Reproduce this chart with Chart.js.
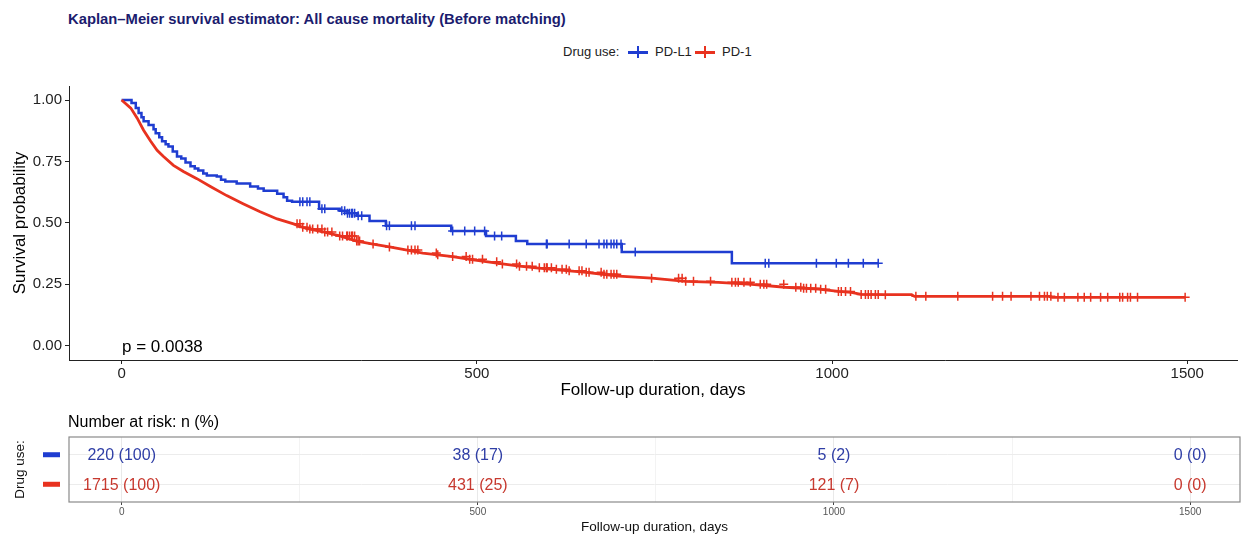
<!DOCTYPE html>
<html>
<head>
<meta charset="utf-8">
<title>Kaplan-Meier</title>
<script src="https://cdn.jsdelivr.net/npm/chart.js@4.4.1/dist/chart.umd.min.js"></script>
<style>
body{margin:0;background:#fff;font-family:"Liberation Sans",Arial,sans-serif;}
#wrap{position:relative;width:1243px;height:536px;overflow:hidden;}
.abs{position:absolute;white-space:nowrap;}
#title{left:68px;top:10px;font-size:14.8px;line-height:18px;font-weight:bold;color:#1b1c6e;}
.leg{top:45px;font-size:13px;line-height:14px;color:#222;}
.key{position:absolute;top:46px;width:20px;height:12px;}
.key::before{content:'';position:absolute;left:0;top:5px;width:20px;height:2.5px;background:currentColor;}
.key::after{content:'';position:absolute;left:9px;top:0;width:2px;height:12px;background:currentColor;}
#pval{left:122px;top:337px;font-size:17px;line-height:20px;color:#000;}
#risktitle{left:68px;top:412px;font-size:16px;line-height:20px;color:#000;}
#main{position:absolute;left:0;top:0;}
#risk{position:absolute;left:0;top:410px;}
</style>
</head>
<body>
<div id="wrap">
  <div id="title" class="abs">Kaplan–Meier survival estimator: All cause mortality (Before matching)</div>
  <div class="abs leg" style="left:563px">Drug use:</div>
  <div class="key" style="left:628px;color:#1f3dd1"></div>
  <div class="abs leg" style="left:655px">PD-L1</div>
  <div class="key" style="left:695px;color:#e8321f"></div>
  <div class="abs leg" style="left:722px">PD-1</div>
  <canvas id="main" width="1243" height="410"></canvas>
  <canvas id="risk" width="1243" height="126"></canvas>
  <div id="pval" class="abs">p = 0.0038</div>
  <div id="risktitle" class="abs">Number at risk: n (%)</div>
</div>
<script>
// PD-L1 curve (step points: day, survival)
const pdl1Time = [0,14,20,24,28,31,38,45,48,53,57,62,66,72,78,84,90,97,103,108,115,120,134,140,146,162,181,192,200,219,228,233,240,278,307,318,331,349,372,464,513,555,571,704,859,1065];
const pdl1Surv = [1.0,0.988,0.967,0.947,0.930,0.914,0.898,0.881,0.865,0.848,0.832,0.820,0.811,0.790,0.770,0.762,0.746,0.730,0.721,0.713,0.701,0.693,0.689,0.676,0.668,0.660,0.648,0.640,0.631,0.619,0.604,0.590,0.586,0.557,0.549,0.539,0.529,0.508,0.488,0.467,0.447,0.426,0.414,0.381,0.336,0.336];
const pdl1Censor = [251,255,261,265,282,286,310,314,318,321,324,325,328,333,338,373,377,408,413,466,483,497,511,525,535,598,599,630,654,672,679,683,689,693,697,703,723,906,911,978,1006,1023,1044,1065];

// PD-1 curve
const pd1Time = [0,13,22,31,41,50,59,73,87,106,125,148,171,195,219,242,255,265,284,307,331,354,377,400,424,445,466,490,513,536,560,583,606,630,654,677,700,746,794,840,887,934,960,981,1009,1027,1041,1075,1112,1116,1305,1310,1497];
const pd1Surv = [1.0,0.967,0.926,0.877,0.832,0.795,0.770,0.734,0.709,0.680,0.648,0.611,0.578,0.545,0.516,0.496,0.482,0.475,0.463,0.447,0.426,0.414,0.402,0.390,0.377,0.370,0.363,0.352,0.342,0.333,0.324,0.317,0.311,0.305,0.299,0.291,0.283,0.275,0.262,0.258,0.250,0.238,0.234,0.230,0.221,0.217,0.209,0.208,0.208,0.201,0.201,0.197,0.197];
const pd1Censor = [247,251,255,261,265,269,276,282,286,290,296,307,311,317,318,321,324,325,328,331,333,335,354,377,403,408,413,417,443,445,466,485,490,494,508,528,536,556,560,570,578,588,595,598,599,605,612,620,626,630,644,648,654,658,675,679,683,689,693,697,746,784,789,794,805,829,859,864,868,876,885,899,904,908,932,949,956,960,964,970,977,984,991,1009,1013,1019,1026,1041,1047,1051,1055,1061,1065,1075,1118,1132,1177,1226,1240,1252,1280,1292,1299,1303,1308,1318,1327,1346,1355,1364,1378,1388,1405,1409,1416,1420,1430,1497];

const xTicks = [0,500,1000,1500];
const yTicks = [0,0.25,0.5,0.75,1];
const tableGrid = [0,250,500,750,1000,1250,1500];

// number at risk table
const riskTimes = [0,500,1000,1500];
const riskPDL1N = [220,38,5,0];
const riskPDL1Pct = [100,17,2,0];
const riskPD1N = [1715,431,121,0];
const riskPD1Pct = [100,25,7,0];

const BLUE = '#1f3dd1', RED = '#e8321f';
const FONT = '"Liberation Sans", Arial, sans-serif';

function survAt(times, surv, t){
	let s = surv[0];
	for (let i = 0; i < times.length; i++) if (times[i] <= t) s = surv[i];
	return s;
}
function pts(times, surv){ return times.map((t,i) => ({x:t, y:surv[i]})); }
function censorPts(c, times, surv){ return c.map(t => ({x:t, y:survAt(times, surv, t)})); }

new Chart(document.getElementById('main'), {
	type: 'scatter',
	data: {
		datasets: [
			{data: pts(pd1Time, pd1Surv), showLine: true, stepped: false, borderColor: RED, borderWidth: 2.8, pointRadius: 0, fill: false},
			{data: censorPts(pd1Censor, pd1Time, pd1Surv), showLine: false, pointStyle: 'cross', pointRadius: 4.5, borderColor: RED, borderWidth: 1.5},
			{data: pts(pdl1Time, pdl1Surv), showLine: true, stepped: true, borderColor: BLUE, borderWidth: 2.5, pointRadius: 0, fill: false},
			{data: censorPts(pdl1Censor, pdl1Time, pdl1Surv), showLine: false, pointStyle: 'cross', pointRadius: 4.5, borderColor: BLUE, borderWidth: 1.5}
		]
	},
	options: {
		responsive: false,
		animation: false,
		layout: {padding: {top: 86, right: 3, left: 0, bottom: 0}},
		plugins: {legend: {display: false}, tooltip: {enabled: false}},
		scales: {
			x: {
				type: 'linear', min: -74, max: 1570,
				afterBuildTicks: s => { s.ticks = xTicks.map(v => ({value: v})); },
				afterFit: s => { s.height = 50; },
				grid: {display: true, drawOnChartArea: false, tickLength: 4, tickColor: '#222'},
				border: {display: true, color: '#222', width: 1},
				ticks: {color: '#222', font: {family: FONT, size: 15}, padding: 1, maxRotation: 0, callback: v => String(v)},
				title: {display: true, text: 'Follow-up duration, days', color: '#000', font: {family: FONT, size: 17}, padding: {top: 0, bottom: 9}}
			},
			y: {
				type: 'linear', min: -0.058, max: 1.057,
				afterBuildTicks: s => { s.ticks = yTicks.map(v => ({value: v})); },
				afterFit: s => { s.width = 69; },
				grid: {display: true, drawOnChartArea: false, tickLength: 4, tickColor: '#222'},
				border: {display: true, color: '#222', width: 1},
				ticks: {color: '#222', font: {family: FONT, size: 15}, padding: 3, callback: v => v.toFixed(2)},
				title: {display: true, text: 'Survival probability', color: '#000', font: {family: FONT, size: 17}, padding: {top: 10, bottom: 0}}
			}
		}
	}
});

const riskPlugin = {
	id: 'riskText',
	afterDraw(chart){
		const {ctx, chartArea: a, scales: {x, y}} = chart;
		ctx.save();
		ctx.strokeStyle = '#8a8a8a';
		ctx.lineWidth = 1.2;
		ctx.strokeRect(a.left, a.top, a.right - a.left, a.bottom - a.top);
		const rows = [
			{n: riskPDL1N, p: riskPDL1Pct, color: '#2f3ea6', key: BLUE},
			{n: riskPD1N, p: riskPD1Pct, color: '#c7392f', key: RED}
		];
		ctx.font = '16px ' + FONT;
		ctx.textAlign = 'center';
		ctx.textBaseline = 'middle';
		rows.forEach((r, i) => {
			const py = y.getPixelForValue(i + 1);
			ctx.fillStyle = r.key;
			ctx.fillRect(43, py - 2.5, 17, 5);
			ctx.fillStyle = r.color;
			riskTimes.forEach((t, j) => {
				ctx.fillText(r.n[j] + ' (' + r.p[j] + ')', x.getPixelForValue(t), py + 1);
			});
		});
		ctx.restore();
	}
};

new Chart(document.getElementById('risk'), {
	type: 'scatter',
	data: {datasets: [{data: []}]},
	plugins: [riskPlugin],
	options: {
		responsive: false,
		animation: false,
		layout: {padding: {top: 27, right: 3, left: 0, bottom: 0}},
		plugins: {legend: {display: false}, tooltip: {enabled: false}},
		scales: {
			x: {
				type: 'linear', min: -74, max: 1570,
				afterBuildTicks: s => { s.ticks = tableGrid.map(v => ({value: v})); },
				afterFit: s => { s.height = 34; },
				grid: {
					display: true, drawOnChartArea: true, tickLength: 3,
					color: c => riskTimes.includes(c.tick.value) ? '#e9e9e9' : '#f3f3f3',
					tickColor: c => riskTimes.includes(c.tick.value) ? '#444' : 'rgba(0,0,0,0)'
				},
				border: {display: false},
				ticks: {color: '#555', font: {family: FONT, size: 10}, padding: 1, maxRotation: 0, autoSkip: false,
					callback: v => riskTimes.includes(v) ? String(v) : ''},
				title: {display: true, text: 'Follow-up duration, days', color: '#111', font: {family: FONT, size: 13.5}, padding: {top: 0, bottom: 1}}
			},
			y: {
				type: 'linear', min: 0.4, max: 2.6, reverse: true,
				afterBuildTicks: s => { s.ticks = [{value: 1}, {value: 2}]; },
				afterFit: s => { s.width = 69; },
				grid: {display: true, drawOnChartArea: true, drawTicks: false, color: '#ececec'},
				border: {display: false},
				ticks: {display: false},
				title: {display: true, text: 'Drug use:', color: '#111', font: {family: FONT, size: 13.5}, padding: {top: 12, bottom: 0}}
			}
		}
	}
});
</script>
</body>
</html>
